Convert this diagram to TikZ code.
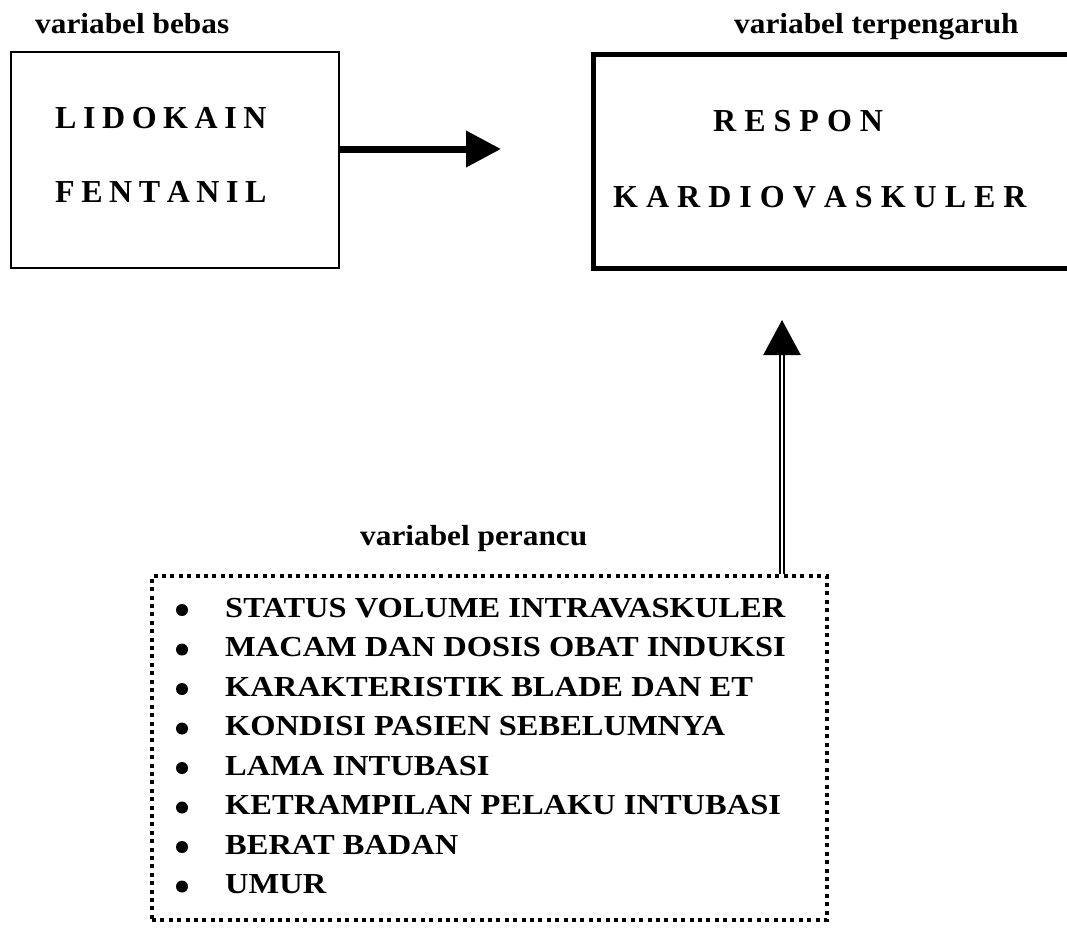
\documentclass[tikz,border=0pt]{standalone}
\usepackage{fontspec}
\setmainfont{Liberation Serif}
\newfontfamily\widefont[FakeStretch=1.12]{Liberation Serif}
\newfontfamily\lblfont[FakeStretch=1.08]{Liberation Serif}
\newfontfamily\tightfont[WordSpace=0.82]{Liberation Serif}
\usetikzlibrary{arrows.meta}
\begin{document}
\begin{tikzpicture}[x=1pt,y=-1pt,
  lbl/.style={anchor=base west,inner sep=0pt,font=\lblfont\fontsize{29}{34}\selectfont\bfseries},
  big/.style={anchor=base west,inner sep=0pt,font=\fontsize{32}{38}\selectfont\bfseries},
  bigtight/.style={anchor=base west,inner sep=0pt,font=\tightfont\fontsize{32}{38}\selectfont\bfseries},
  item/.style={anchor=base west,inner sep=0pt,font=\widefont\fontsize{29}{34}\selectfont\bfseries},
  bul/.style={circle,fill,inner sep=0pt,minimum size=12pt},
  thinbox/.style={draw,line width=1.8pt,inner sep=0pt},
  thickbox/.style={draw,line width=4.5pt,inner sep=0pt},
  dotbox/.style={draw,line width=4pt,dash pattern=on 4pt off 4.4pt,inner sep=0pt},
  bigarrow/.style={line width=7pt,-{Triangle[length=35pt,width=35pt]}},
  dblarrow/.style={double,double distance=1.8pt,line width=2.4pt,-{Triangle[length=35pt,width=37pt]}}
]
\useasboundingbox (0,0) rectangle (1067,930);
\clip (0,0) rectangle (1067,930);
% boxes
\node[thinbox,minimum width=328pt,minimum height=216pt,anchor=north west] (indep) at (10,51) {};
\node[thickbox,minimum width=484pt,minimum height=214pt,anchor=north west] (dep) at (591,52) {};
\node[dotbox,minimum width=675pt,minimum height=344pt,anchor=north west] (conf) at (150,574) {};
% labels
\node[lbl] (lb1) at (35,33) {variabel bebas};
\node[lbl] (lb2) at (734,33) {variabel terpengaruh};
\node[lbl] (lb3) at (360,545) {variabel perancu};
% box texts
\node[bigtight] (t1) at (55,128) {L I D O K A I N};
\node[bigtight] (t2) at (55,202) {F E N T A N I L};
\node[big] (t3) at (713,131) {R E S P O N};
\node[big] (t4) at (613,207) {K A R D I O V A S K U L E R};
% items
\foreach \t [count=\i from 0] in {STATUS VOLUME INTRAVASKULER,MACAM DAN DOSIS OBAT INDUKSI,KARAKTERISTIK BLADE DAN ET,KONDISI PASIEN SEBELUMNYA,LAMA INTUBASI,KETRAMPILAN PELAKU INTUBASI,BERAT BADAN,UMUR}{
  \node[bul] (bu\i) at (182,610+39.5*\i) {};
  \node[item] (it\i) at (225,617+39.5*\i) {\t};
}
% connectors
\coordinate (tipA) at (501,149);
\draw[bigarrow] (indep.east |- tipA) -- (tipA);
\coordinate (tipB) at (782,320);
\draw[dblarrow] (conf.north -| tipB) -- (tipB);
\end{tikzpicture}
\end{document}
